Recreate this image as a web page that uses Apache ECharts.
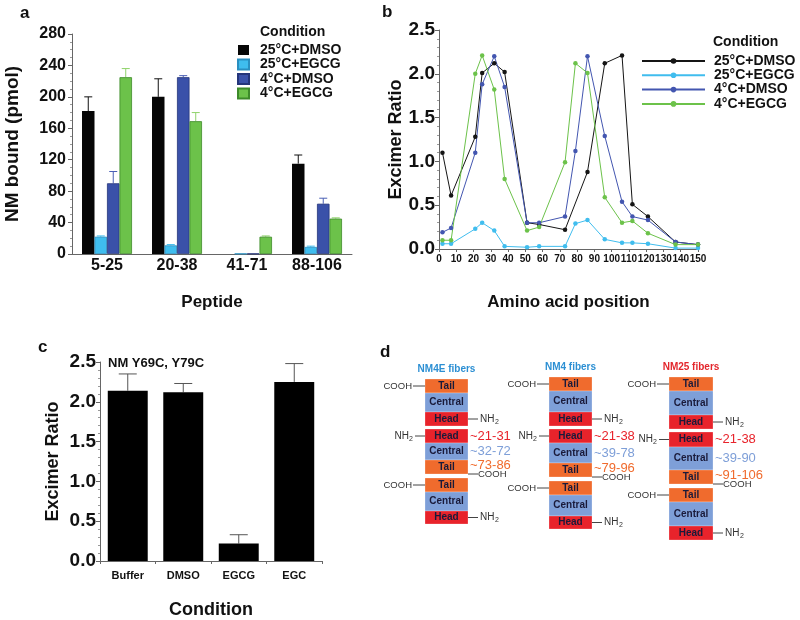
<!DOCTYPE html>
<html><head><meta charset="utf-8">
<script src="https://cdn.jsdelivr.net/npm/echarts/dist/echarts.min.js"></script>
<style>html,body{margin:0;padding:0;background:#fff}#c{width:800px;height:620px}</style>
</head><body><div id="c"></div>
<script>
const FONT = '"Liberation Sans", Arial, Helvetica, sans-serif';

// ---------- Panel a data ----------
const peptides = ['5-25', '20-38', '41-71', '88-106'];
const conditions = ['25°C+DMSO', '25°C+EGCG', '4°C+DMSO', '4°C+EGCG'];
const boundDMSO25 = [182, 200, 0, 115];
const boundEGCG25 = [22, 11, 0.5, 9];
const boundDMSO4 = [90, 225, 0.5, 64];
const boundEGCG4 = [225, 169, 22, 45];
const errDMSO25 = [18, 23, 0, 11];
const errEGCG25 = [1, 1, 0, 1];
const errDMSO4 = [15, 2, 0, 7];
const errEGCG4 = [11, 11, 1, 1];

// ---------- Panel b data ----------
const positions = [2, 7, 21, 25, 32, 38, 51, 58, 73, 79, 86, 96, 106, 112, 121, 137, 150];
const ratioDMSO25 = [1.10, 0.61, 1.28, 2.01, 2.12, 2.02, 0.30, 0.28, 0.22, null, 0.88, 2.12, 2.21, 0.51, 0.37, 0.08, 0.05];
const ratioEGCG25 = [0.06, 0.06, 0.23, 0.30, 0.21, 0.03, 0.02, 0.03, 0.03, 0.29, 0.33, 0.11, 0.07, 0.07, 0.06, 0.01, 0.01];
const ratioDMSO4 = [0.19, 0.24, 1.10, 1.88, 2.20, 1.85, 0.30, 0.30, 0.37, 1.12, 2.20, 1.29, 0.54, 0.37, 0.33, 0.08, 0.05];
const ratioEGCG4 = [0.10, 0.10, 2.00, 2.21, 1.82, 0.80, 0.21, 0.25, 0.99, 2.12, 2.01, 0.59, 0.30, 0.32, 0.18, 0.05, 0.05];

// ---------- Panel c data ----------
const conditionsC = ['Buffer', 'DMSO', 'EGCG', 'EGC'];
const ratioC = [2.14, 2.12, 0.22, 2.25];
const errC = [0.21, 0.11, 0.11, 0.23];

// ---------- Panel d data ----------
const fiberNames = ['NM4E fibers', 'NM4 fibers', 'NM25 fibers'];
const headRanges = ['~21-31', '~21-38', '~21-38'];
const centralRanges = ['~32-72', '~39-78', '~39-90'];
const tailRanges = ['~73-86', '~79-96', '~91-106'];

const colorsA = ['#060606', '#3fbdee', '#3a51a9', '#6cc24a'];
const bordersA = ['#000000', '#2a8fc0', '#24357a', '#3d8a2a'];
const errColorsA = ['#111111', '#3fbdee', '#4a5fb5', '#8fd36a'];
const colorsB = ['#151515', '#40bdee', '#4356b0', '#6cc24a'];
const segColors = { Tail: '#f06b2d', Central: '#7e9fd8', Head: '#e8232b' };
const titleColors = ['#2c8fd3', '#2c8fd3', '#e3262c'];

const valsA = [boundDMSO25, boundEGCG25, boundDMSO4, boundEGCG4];
const errsA = [errDMSO25, errEGCG25, errDMSO4, errEGCG4];
const valsB = [ratioDMSO25, ratioEGCG25, ratioDMSO4, ratioEGCG4];
const CAT_GAP = 0.286;

function errSeriesA(k) {
  return {
    type: 'custom', xAxisIndex: 0, yAxisIndex: 0, z: 1,
    data: peptides.map((p, i) => [i, valsA[k][i], errsA[k][i]]),
    renderItem: function (params, api) {
      const err = api.value(2);
      if (!err) return null;
      const base = api.coord([api.value(0), api.value(1)]);
      const top = api.coord([api.value(0), api.value(1) + err]);
      const band = api.size([1, 0])[0];
      const bw = band * (1 - CAT_GAP) / 4;
      const x = base[0] + (k - 1.5) * bw;
      const st = { stroke: errColorsA[k], lineWidth: 1 };
      return { type: 'group', children: [
        { type: 'line', shape: { x1: x, y1: base[1], x2: x, y2: top[1] }, style: st },
        { type: 'line', shape: { x1: x - 4, y1: top[1], x2: x + 4, y2: top[1] }, style: st }
      ]};
    }
  };
}

function errSeriesC() {
  return {
    type: 'custom', xAxisIndex: 2, yAxisIndex: 2, z: 1,
    data: conditionsC.map((c, i) => [i, ratioC[i], errC[i]]),
    renderItem: function (params, api) {
      const base = api.coord([api.value(0), api.value(1)]);
      const top = api.coord([api.value(0), api.value(1) + api.value(2)]);
      const st = { stroke: '#555', lineWidth: 1 };
      return { type: 'group', children: [
        { type: 'line', shape: { x1: base[0], y1: base[1], x2: base[0], y2: top[1] }, style: st },
        { type: 'line', shape: { x1: base[0] - 9, y1: top[1], x2: base[0] + 9, y2: top[1] }, style: st }
      ]};
    }
  };
}

// ---------- Panel d layout (positions only) ----------
const dLayout = [
  { x: 425, w: 43, stacks: [
    { y: 379, h: [14, 19, 14], order: ['Tail', 'Central', 'Head'] },
    { y: 429, h: [14, 17, 14], order: ['Head', 'Central', 'Tail'] },
    { y: 478, h: [14, 19, 13], order: ['Tail', 'Central', 'Head'] } ] },
  { x: 549, w: 43, stacks: [
    { y: 377, h: [14, 21, 14], order: ['Tail', 'Central', 'Head'] },
    { y: 429, h: [14, 20, 14], order: ['Head', 'Central', 'Tail'] },
    { y: 481, h: [14, 21, 13], order: ['Tail', 'Central', 'Head'] } ] },
  { x: 669, w: 44, stacks: [
    { y: 377, h: [14, 24, 14], order: ['Tail', 'Central', 'Head'] },
    { y: 432, h: [15, 23, 14], order: ['Head', 'Central', 'Tail'] },
    { y: 488, h: [14, 24, 14], order: ['Tail', 'Central', 'Head'] } ] }
];

function gText(x, y, text, o) {
  return Object.assign({ type: 'text', x: x, y: y, silent: true,
    style: Object.assign({ text: text, font: '9px ' + FONT, fill: '#333', textAlign: 'left', textVerticalAlign: 'middle' }, o || {}) });
}
function gLine(x1, y1, x2, y2) {
  return { type: 'line', silent: true, shape: { x1: x1, y1: y1, x2: x2, y2: y2 }, style: { stroke: '#444', lineWidth: 1 } };
}
function nh2(x, y, align) {
  const out = [];
  if (align === 'right') {
    out.push(gText(x - 5, y, 'NH', { textAlign: 'right', fill: '#333', font: '10px ' + FONT }));
    out.push(gText(x - 5, y + 3, '2', { textAlign: 'left', fill: '#333', font: '7px ' + FONT }));
  } else {
    out.push(gText(x, y, 'NH', { fill: '#333', font: '10px ' + FONT }));
    out.push(gText(x + 15, y + 3, '2', { fill: '#333', font: '7px ' + FONT }));
  }
  return out;
}

function buildD() {
  const els = [];
  dLayout.forEach((col, ci) => {
    const cx = col.x + col.w / 2;
    els.push(gText(cx, col.stacks[0].y - 10, fiberNames[ci], { textAlign: 'center', font: 'bold 10px ' + FONT, fill: titleColors[ci] }));
    col.stacks.forEach((st, si) => {
      let y = st.y;
      const segY = {};
      st.order.forEach((name, k) => {
        const h = st.h[k];
        els.push({ type: 'rect', silent: true, shape: { x: col.x, y: y, width: col.w, height: h },
          style: { fill: segColors[name], stroke: 'rgba(255,255,255,0.5)', lineWidth: 0.5 } });
        els.push(gText(cx, y + h / 2, name, { textAlign: 'center', font: 'bold 10px ' + FONT, fill: '#1a1a3a' }));
        segY[name] = [y, y + h];
        y += h;
      });
      const R = col.x + col.w;
      if (si === 1) {
        const hy = (segY.Head[0] + segY.Head[1]) / 2;
        els.push(gLine(col.x - 10, hy, col.x, hy));
        els.push(...nh2(col.x - 11, hy, 'right'));
        const cy = (segY.Central[0] + segY.Central[1]) / 2;
        const ty = (segY.Tail[0] + segY.Tail[1]) / 2;
        els.push(gText(R + 2, hy, headRanges[ci], { font: '13px ' + FONT, fill: segColors.Head }));
        els.push(gText(R + 2, cy, centralRanges[ci], { font: '13px ' + FONT, fill: segColors.Central }));
        els.push(gText(R + 2, ty - 2, tailRanges[ci], { font: '13px ' + FONT, fill: segColors.Tail }));
        const by = segY.Tail[1];
        els.push(gLine(R, by, R + 10, by));
        els.push(gText(R + 10, by, 'COOH', { font: '9.5px ' + FONT }));
      } else {
        const ty = (segY.Tail[0] + segY.Tail[1]) / 2;
        els.push(gLine(col.x - 12, ty, col.x, ty));
        els.push(gText(col.x - 13, ty, 'COOH', { textAlign: 'right', font: '9.5px ' + FONT }));
        const hy = (segY.Head[0] + segY.Head[1]) / 2;
        els.push(gLine(R, hy, R + 10, hy));
        els.push(...nh2(R + 12, hy, 'left'));
      }
    });
  });
  return els;
}

const bold = (s) => ({ fontFamily: FONT, fontWeight: 'bold', fontSize: s, color: '#111' });

const chart = echarts.init(document.getElementById('c'), null, { renderer: 'canvas' });

const series = [];
conditions.forEach((c, k) => {
  series.push({ type: 'bar', name: c, xAxisIndex: 0, yAxisIndex: 0, data: valsA[k],
    barGap: '0%', barCategoryGap: (CAT_GAP * 100) + '%', z: 2,
    itemStyle: { color: colorsA[k], borderColor: bordersA[k], borderWidth: k === 0 ? 0 : 0.8 } });
});
conditions.forEach((c, k) => series.push(errSeriesA(k)));
conditions.forEach((c, k) => {
  series.push({ type: 'line', name: c + ' ', xAxisIndex: 1, yAxisIndex: 1,
    data: positions.map((p, i) => [p, valsB[k][i]]), connectNulls: true,
    symbol: 'circle', symbolSize: 4.5, showSymbol: true,
    lineStyle: { color: colorsB[k], width: 1 }, itemStyle: { color: colorsB[k] } });
});
series.push({ type: 'bar', name: 'Excimer', xAxisIndex: 2, yAxisIndex: 2, data: ratioC,
  barCategoryGap: '28%', z: 2, itemStyle: { color: '#000' } });
series.push(errSeriesC());

const axisLine = { show: true, lineStyle: { color: '#666', width: 1 } };

const option = {
  animation: false,
  backgroundColor: '#fff',
  textStyle: { fontFamily: FONT },
  grid: [
    { left: 72, top: 34, width: 280, height: 220, containLabel: false, outerBoundsMode: 'none' },
    { left: 439, top: 30, width: 259, height: 219, containLabel: false, outerBoundsMode: 'none' },
    { left: 100, top: 362, width: 222, height: 199, containLabel: false, outerBoundsMode: 'none' }
  ],
  xAxis: [
    { gridIndex: 0, type: 'category', data: peptides, axisLine: axisLine, axisTick: { show: false },
      axisLabel: Object.assign(bold(16), { margin: 4 }),
      name: 'Peptide', nameLocation: 'middle', nameGap: 40, nameTextStyle: bold(17) },
    { gridIndex: 1, type: 'value', min: 0, max: 150, interval: 10, axisLine: axisLine,
      axisTick: { show: true, length: 3, lineStyle: { color: '#666' } }, splitLine: { show: false },
      axisLabel: Object.assign(bold(10), { margin: 5, hideOverlap: false }),
      name: 'Amino acid position', nameLocation: 'middle', nameGap: 45, nameTextStyle: bold(17) },
    { gridIndex: 2, type: 'category', data: conditionsC, axisLine: axisLine,
      axisTick: { show: true, length: 3, lineStyle: { color: '#666' } },
      axisLabel: Object.assign(bold(11), { margin: 9 }),
      name: 'Condition', nameLocation: 'middle', nameGap: 40, nameTextStyle: bold(18) }
  ],
  yAxis: [
    { gridIndex: 0, type: 'value', min: 0, max: 280, interval: 40, axisLine: axisLine,
      axisTick: { show: true, length: 4, lineStyle: { color: '#666' } },
      minorTick: { show: true, splitNumber: 4, length: 2, lineStyle: { color: '#999' } },
      splitLine: { show: false },
      axisLabel: Object.assign(bold(16), { margin: 6 }),
      name: 'NM bound (pmol)', nameLocation: 'middle', nameGap: 50, nameTextStyle: bold(19) },
    { gridIndex: 1, type: 'value', min: 0, max: 2.5, interval: 0.5, axisLine: axisLine,
      axisTick: { show: true, length: 4, lineStyle: { color: '#666' } },
      minorTick: { show: true, splitNumber: 5, length: 2, lineStyle: { color: '#999' } },
      splitLine: { show: false },
      axisLabel: Object.assign(bold(19), { margin: 4, formatter: (v) => v.toFixed(1) }),
      name: 'Excimer Ratio', nameLocation: 'middle', nameGap: 34, nameTextStyle: bold(18) },
    { gridIndex: 2, type: 'value', min: 0, max: 2.5, interval: 0.5, axisLine: axisLine,
      axisTick: { show: true, length: 4, lineStyle: { color: '#666' } },
      minorTick: { show: true, splitNumber: 5, length: 2, lineStyle: { color: '#999' } },
      splitLine: { show: false },
      axisLabel: Object.assign(bold(19), { margin: 4, formatter: (v) => v.toFixed(1) }),
      name: 'Excimer Ratio', nameLocation: 'middle', nameGap: 38, nameTextStyle: bold(18) }
  ],
  legend: [
    { left: 237, top: 43, orient: 'vertical', data: conditions, icon: 'rect', itemWidth: 11, itemHeight: 10,
      itemGap: 0.5, selectedMode: false, padding: 0,
      textStyle: Object.assign(bold(14), { padding: [0, 0, 0, 6], lineHeight: 14 }) },
    { left: 641, top: 54, orient: 'vertical', data: conditions.map(c => c + ' '), itemWidth: 63, itemHeight: 7,
      itemGap: 0.3, selectedMode: false, padding: 0, lineStyle: { width: 2 },
      textStyle: Object.assign(bold(14), { padding: [0, 0, 0, 4], lineHeight: 14 }) }
  ],
  series: series,
  graphic: [
    gText(20, 13, 'a', { font: 'bold 17px ' + FONT, fill: '#111' }),
    gText(382, 12, 'b', { font: 'bold 17px ' + FONT, fill: '#111' }),
    gText(38, 347, 'c', { font: 'bold 17px ' + FONT, fill: '#111' }),
    gText(380, 352, 'd', { font: 'bold 17px ' + FONT, fill: '#111' }),
    gText(260, 32, 'Condition', { font: 'bold 14px ' + FONT, fill: '#111' }),
    gText(713, 42, 'Condition', { font: 'bold 14px ' + FONT, fill: '#111' }),
    gText(108, 363, 'NM Y69C, Y79C', { font: 'bold 13px ' + FONT, fill: '#111' })
  ].concat(buildD())
};
chart.setOption(option);
</script></body></html>
